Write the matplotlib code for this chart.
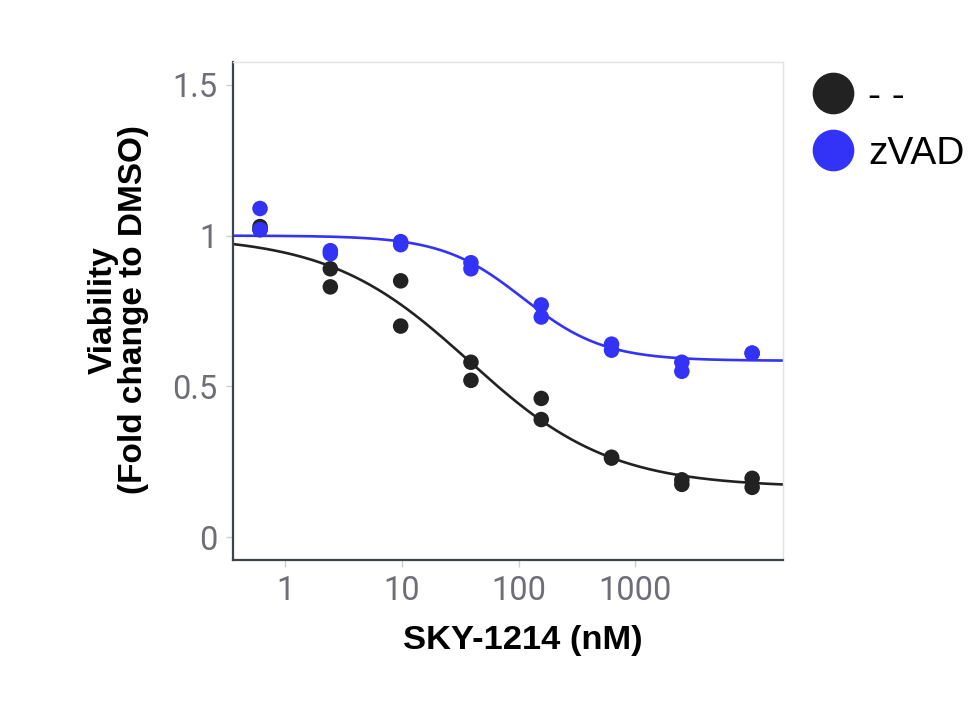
import numpy as np
import matplotlib
matplotlib.use("Agg")
import matplotlib.pyplot as plt
from matplotlib.lines import Line2D

# ---- data ----
conc = [0.61, 2.44, 9.77, 39.06, 156.25, 625, 2500, 10000]

ctrl_rep1 = [1.03, 0.89, 0.85, 0.58, 0.46, 0.265, 0.19, 0.195]
ctrl_rep2 = [1.02, 0.83, 0.70, 0.52, 0.39, 0.262, 0.175, 0.165]
zvad_rep1 = [1.09, 0.95, 0.98, 0.91, 0.77, 0.64, 0.58, 0.61]
zvad_rep2 = [1.02, 0.94, 0.97, 0.89, 0.73, 0.62, 0.55, 0.61]

# 4-parameter logistic fits: top, bottom, EC50, hill
ctrl_fit = (1.0, 0.165, 38.0, 0.72)
zvad_fit = (1.0, 0.585, 109.0, 1.25)

labels = ["- -", "zVAD"]
BLACK = "#222222"
BLUE = "#3333f8"


def logistic4(x, top, bottom, ec50, hill):
    return bottom + (top - bottom) / (1.0 + (x / ec50) ** hill)


fig = plt.figure(figsize=(9.79, 7.04), dpi=100)
ax = fig.add_axes([0.238, 0.2045, 0.562, 0.7075])

xlim = (0.358, 18450)
xs = np.logspace(np.log10(xlim[0]), np.log10(xlim[1]), 300)

ax.plot(xs, logistic4(xs, *ctrl_fit), color=BLACK, lw=1.9, zorder=2)
ax.plot(xs, logistic4(xs, *zvad_fit), color=BLUE, lw=1.9, zorder=2)

for reps, col in [((ctrl_rep1, ctrl_rep2), BLACK), ((zvad_rep1, zvad_rep2), BLUE)]:
    for r in reps:
        ax.scatter(conc, r, s=125, color=col, edgecolors="none", zorder=3)

ax.set_xscale("log")
ax.set_xlim(*xlim)
ax.set_ylim(-0.076, 1.576)
ax.set_xticks([1, 10, 100, 1000])
ax.set_xticklabels(["1", "10", "100", "1000"])
ax.xaxis.set_minor_locator(matplotlib.ticker.NullLocator())
ax.set_yticks([0, 0.5, 1, 1.5])
ax.set_yticklabels(["0", "0.5", "1", "1.5"])

tick_col = "#6e6e78"
ax.tick_params(axis="both", colors="#cfcfcf", length=5, width=1, labelsize=23.5, pad=6)
for t in ax.get_xticklabels() + ax.get_yticklabels():
    t.set_color(tick_col)
    t.set_family("Roboto")

for s in ["left", "bottom"]:
    ax.spines[s].set_color("#3a4550")
    ax.spines[s].set_linewidth(1.6)
for s in ["top", "right"]:
    ax.spines[s].set_color("#e2e2e2")
    ax.spines[s].set_linewidth(1.0)

ax.set_xlabel("SKY-1214 (nM)", fontsize=24.8, fontweight="bold",
              family="Liberation Sans", labelpad=13)
ax.xaxis.label.set_x(0.526)
fig.text(0.121, 0.56, "Viability\n(Fold change to DMSO)", rotation=90,
         ha="center", va="center", fontsize=24, fontweight="bold",
         family="Liberation Sans", linespacing=0.95)

handles = [Line2D([], [], marker="o", ls="none", color=BLACK, markersize=29),
           Line2D([], [], marker="o", ls="none", color=BLUE, markersize=29)]
fig.legend(handles, labels, loc="upper left", bbox_to_anchor=(0.8116, 0.910),
           frameon=False, prop={"family": "Liberation Sans", "size": 28},
           handletextpad=0.3, labelspacing=0.53, handlelength=1.2,
           borderaxespad=0)

fig.savefig("out.png", dpi=100)
